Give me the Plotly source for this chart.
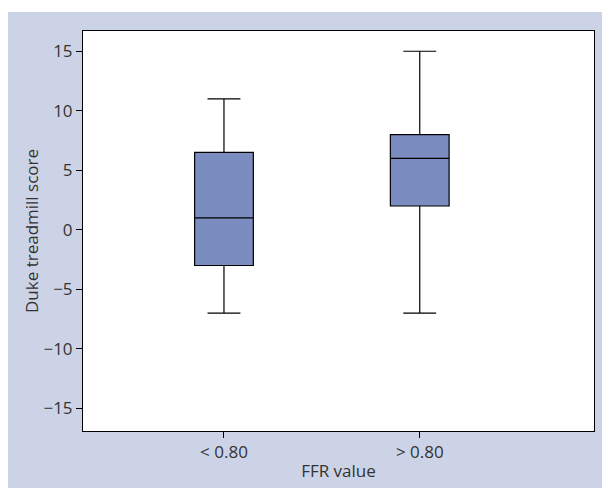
import plotly.graph_objects as go

categories = ["< 0.80", "> 0.80"]
q1_vals = [-3, 2]
median_vals = [1, 6]
q3_vals = [6.5, 8]
lower_vals = [-7, -7]
upper_vals = [11, 15]
y_ticks = [-15, -10, -5, 0, 5, 10, 15]

fig = go.Figure()
fig.add_trace(go.Box(
    x=[0, 1],
    q1=q1_vals, median=median_vals, q3=q3_vals,
    lowerfence=lower_vals, upperfence=upper_vals,
    width=0.3, whiskerwidth=0.56,
    fillcolor="#7a8cc0",
    line=dict(color="black", width=1.2),
    boxpoints=False,
    showlegend=False,
    hoverinfo="skip",
))

bg = "#cdd3e6"
fig.update_layout(
    width=610, height=488,
    margin=dict(l=75, r=24, t=23, b=65),
    paper_bgcolor=bg,
    plot_bgcolor="white",
    font=dict(family="Open Sans, Noto Sans, sans-serif", size=17, color="#333333"),
    shapes=[
        dict(type="rect", xref="paper", yref="paper",
             x0=-0.2, x1=1.1, y0=1.0475, y1=1.2,
             fillcolor="white", line=dict(width=0), layer="below"),
    ],
)
fig.update_xaxes(
    range=[-0.72, 1.89],
    tickmode="array", tickvals=[0, 1], ticktext=categories,
    ticks="outside", ticklen=6, tickcolor="black",
    showline=True, linecolor="black", linewidth=1, mirror=True,
    showgrid=False, zeroline=False,
    title=dict(text="FFR value", standoff=2, font=dict(size=17)),
)
fig.update_yaxes(
    range=[-16.9, 16.7],
    tickmode="array", tickvals=y_ticks,
    ticks="outside", ticklen=6, tickcolor="black",
    showline=True, linecolor="black", linewidth=1, mirror=True,
    showgrid=False, zeroline=False,
    title=dict(text="Duke treadmill score", standoff=0, font=dict(size=17)),
)

fig.write_html("out.html")
